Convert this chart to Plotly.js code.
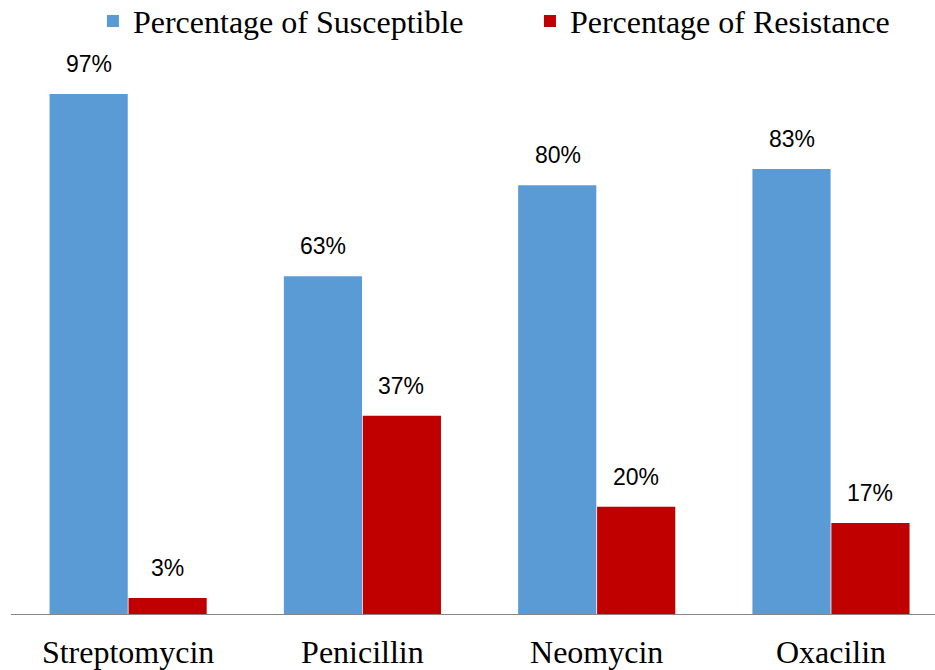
<!DOCTYPE html>
<html>
<head>
<meta charset="utf-8">
<script src="https://cdn.plot.ly/plotly-3.0.1.min.js"></script>
<style>html,body{margin:0;padding:0;background:#fff;}#chart{width:935px;height:670px;}</style>
</head>
<body>
<div id="chart"></div>
<script>
const categories = ["Streptomycin", "Penicillin", "Neomycin", "Oxacilin"];
const susceptible = [97, 63, 80, 83];
const resistance = [3, 37, 20, 17];
const seriesNames = ["Percentage of Susceptible", "Percentage of Resistance"];

const blue = "#5B9BD5", red = "#C00000";

const traces = [
  {type: "bar", name: seriesNames[0], x: categories, y: susceptible, marker: {color: blue}, hoverinfo: "none"},
  {type: "bar", name: seriesNames[1], x: categories, y: resistance, marker: {color: red}, hoverinfo: "none"}
];

const annotations = [];
categories.forEach((c, i) => {
  [[susceptible, -39], [resistance, 39]].forEach(([arr, dx]) => {
    annotations.push({
      x: c, y: arr[i], xref: "x", yref: "y", text: arr[i] + "%",
      showarrow: false, xshift: dx, yshift: 15, yanchor: "bottom",
      font: {family: "Liberation Sans, Arial, sans-serif", size: 23, color: "#000"}
    });
  });
});

const layout = {
  width: 935, height: 670,
  margin: {l: 11, r: 0, t: 78, b: 56, autoexpand: false},
  paper_bgcolor: "#fff", plot_bgcolor: "rgba(0,0,0,0)",
  barmode: "group", bargap: 0.326, bargroupgap: 0.01,
  showlegend: true,
  legend: {orientation: "h", x: 0.0887, xanchor: "left", y: 1.106, yanchor: "middle",
    entrywidth: 392, itemwidth: 30,
    font: {family: "Liberation Serif, Times New Roman, serif", size: 32, color: "#000"},
    traceorder: "normal"},
  xaxis: {range: [-0.5, 3.444], showline: true, linecolor: "#868686", linewidth: 1,
    ticks: "", showgrid: false, zeroline: false, fixedrange: true, ticklabelstandoff: 10,
    tickfont: {family: "Liberation Serif, Times New Roman, serif", size: 32, color: "#000"}},
  yaxis: {range: [0, 100], visible: false, showgrid: false, zeroline: false, fixedrange: true},
  annotations: annotations
};

Plotly.newPlot("chart", traces, layout, {displayModeBar: false, staticPlot: true});
</script>
</body>
</html>
